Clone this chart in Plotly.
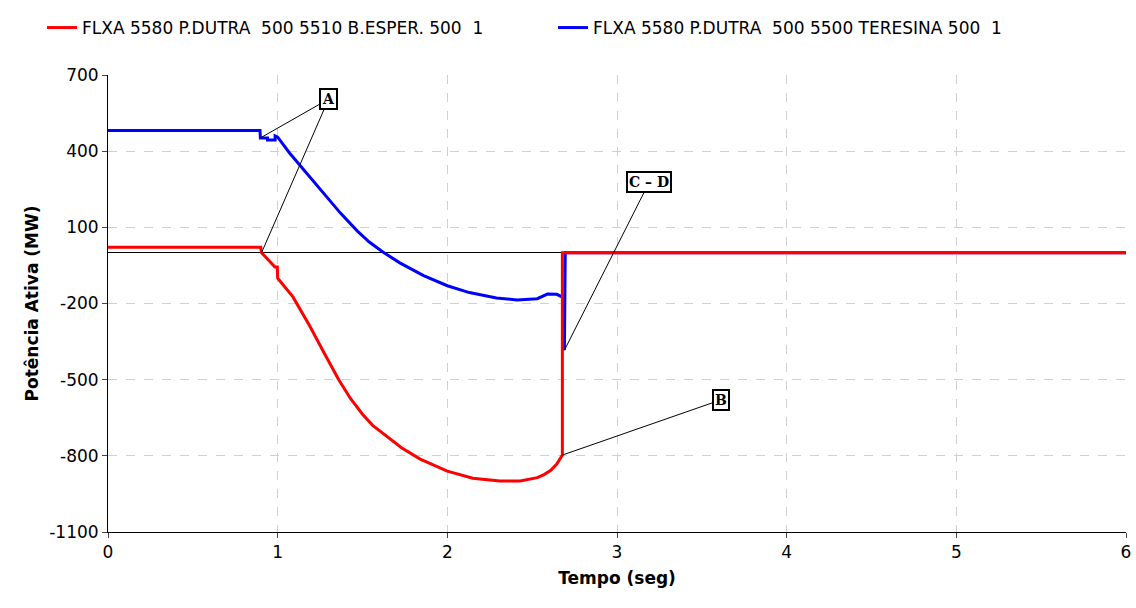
import plotly.graph_objects as go

# Active power flow on the two 500 kV lines out of P.DUTRA (MW vs. seconds)
t_red = [0, 0.9, 0.905, 0.984, 0.998, 1.0, 1.09, 1.19, 1.27, 1.36, 1.43, 1.50,
         1.56, 1.62, 1.73, 1.84, 2.00, 2.15, 2.31, 2.43, 2.53, 2.57, 2.61, 2.645,
         2.678, 2.678, 6.0]
p_red = [22, 22, 0, -56, -56, -100, -174, -290, -390, -500, -575, -636,
         -680, -712, -768, -813, -860, -888, -899, -899, -886, -874, -857, -832,
         -797, 0, 0]

t_blue = [0, 0.896, 0.898, 0.94, 0.94, 0.985, 0.985, 1.0, 1.07, 1.17, 1.27, 1.37,
          1.47, 1.54, 1.62, 1.72, 1.86, 2.00, 2.13, 2.29, 2.41, 2.53, 2.59,
          2.645, 2.674, 2.685, 2.69, 2.695, 6.0]
p_blue = [481, 481, 452, 452, 444, 444, 460, 455, 393, 314, 235, 156,
          85, 42, 3, -40, -90, -130, -157, -178, -186, -181, -163,
          -164, -173, -173, -384, 0, 0]

name_red = "FLXA 5580 P.DUTRA  500 5510 B.ESPER. 500  1"
name_blue = "FLXA 5580 P.DUTRA  500 5500 TERESINA 500  1"

y_ticks = [700, 400, 100, -200, -500, -800, -1100]
y_labels = ["700", "400", "100", "-200", "-500", "-800", "-1100"]
x_ticks = [0, 1, 2, 3, 4, 5, 6]

FONT = "DejaVu Sans, Liberation Sans, sans-serif"

fig = go.Figure()
fig.add_trace(go.Scatter(x=t_blue, y=p_blue, mode="lines", name=name_blue,
                         line=dict(color="#0000ff", width=3), legend="legend2"))
fig.add_trace(go.Scatter(x=t_red, y=p_red, mode="lines", name=name_red,
                         line=dict(color="#ff0000", width=3), legend="legend"))

box_font = dict(family="DejaVu Serif, Liberation Serif, serif", size=14, color="black")


def label(text, tx, ty, hx, hy):
    fig.add_annotation(x=hx, y=hy, ax=tx, ay=ty, axref="x", ayref="y",
                       xref="x", yref="y", text="<b>%s</b>" % text,
                       showarrow=True, arrowhead=0, arrowwidth=1,
                       arrowcolor="black", font=box_font, bgcolor="white",
                       bordercolor="black", borderwidth=2, borderpad=1)


# event markers: A = fault, B / C-D = line openings
label("A", 1.30, 605, t_blue[2], p_blue[2])
label("A", 1.30, 605, t_red[2], p_red[2])
label("B", 3.61, -580, t_red[24], p_red[24])
label("C \u2013 D", 3.19, 278, t_blue[26], p_blue[26])

legend_common = dict(orientation="h", xanchor="left", xref="container",
                     y=1 - 10 / 608, yanchor="top", yref="container",
                     font=dict(size=17), bgcolor="rgba(0,0,0,0)")

fig.update_layout(
    width=1136, height=608,
    margin=dict(l=108, r=10, t=75, b=76, autoexpand=False),
    paper_bgcolor="white", plot_bgcolor="white",
    font=dict(family=FONT, size=17, color="black"),
    showlegend=True,
    legend=dict(x=42 / 1136, **legend_common),
    legend2=dict(x=553 / 1136, **legend_common),
)

fig.update_xaxes(range=[0, 6], tickvals=x_ticks, ticks="outside", ticklen=5,
                 showline=True, linecolor="black", linewidth=1,
                 showgrid=True, gridcolor="#d0d0d0", griddash="dash",
                 zeroline=False, tickfont=dict(size=17),
                 title=dict(text="<b>Tempo (seg)</b>", font=dict(size=17), standoff=10))
fig.update_yaxes(range=[-1100, 700], tickvals=y_ticks, ticktext=y_labels,
                 ticks="outside", ticklen=5,
                 showline=True, linecolor="black", linewidth=1,
                 showgrid=True, gridcolor="#d0d0d0", griddash="dash",
                 zeroline=True, zerolinecolor="black", zerolinewidth=1,
                 tickfont=dict(size=17),
                 title=dict(text="<b>Potência Ativa (MW)</b>", font=dict(size=17), standoff=6))

fig.write_html("out.html")
